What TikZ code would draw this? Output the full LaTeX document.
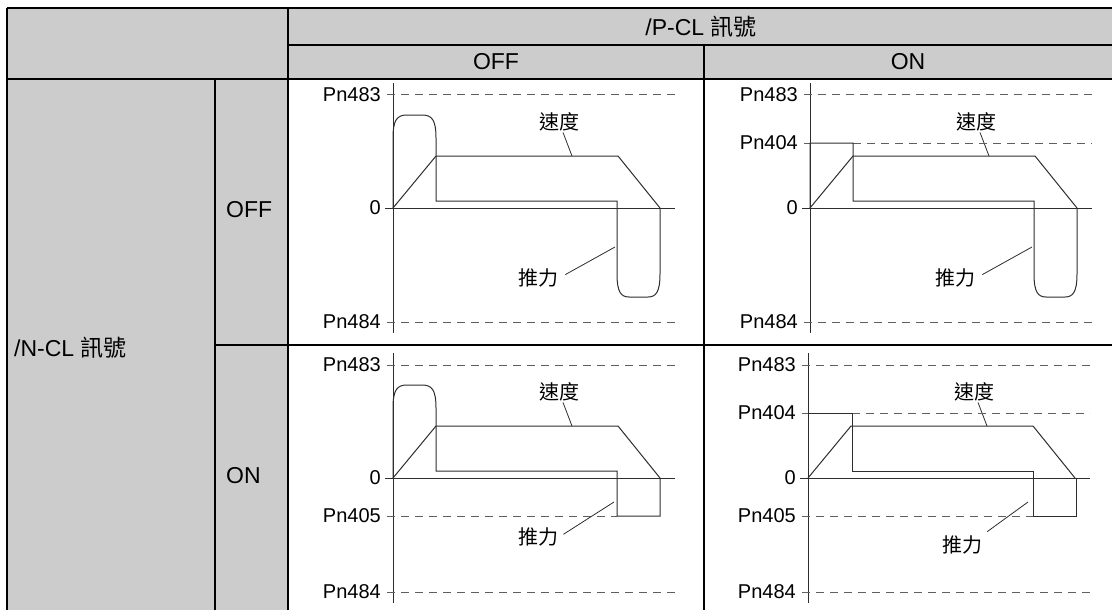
\documentclass[tikz,border=0pt]{standalone}
\usepackage{fontspec}
\setmainfont{Liberation Sans}
\newfontfamily\cjk{Noto Sans CJK TC}
\usetikzlibrary{positioning,calc}
\definecolor{hdrgray}{RGB}{204,204,204}
\definecolor{crvgray}{RGB}{45,45,45}
\definecolor{limgray}{RGB}{95,95,95}
\newcommand{\pnframe}[1]{%
  \draw[axl] (0,-125) -- (0,125);
  \draw[axl] (-8,0) -- (282,0);
  \draw[lim] (-6,-113) -- (282,-113);
  \draw[lim] (-6,114) -- (282,114);
  \node[plab] (#1-483) at (-12,-113) {Pn483};
  \node[plab] (#1-0) at (-12,0) {0};
  \node[plab] (#1-484) at (-12,114) {Pn484};
  \draw[crv] (0,0) -- (43,-52) -- (225,-52) -- (267,0);
  \node[clab] (#1-v) at (166,-86) {速度};
  \coordinate (#1-vp) at (179,-52);
  \draw[lead] (#1-v) -- (#1-vp);}
\tikzset{
  cell/.style={black, line width=1.5pt},
  hlab/.style={font=\fontsize{23}{27}\selectfont, inner sep=0pt},
  plab/.style={font=\fontsize{20}{24}\selectfont, anchor=east, inner sep=0pt},
  clab/.style={font=\cjk\fontsize{20}{24}\selectfont, inner sep=1pt},
  axl/.style={crvgray, line width=1pt},
  lim/.style={limgray, line width=1pt, dash pattern=on 8pt off 6pt},
  crv/.style={crvgray, line width=1pt},
  lead/.style={crvgray, line width=0.8pt},
}
\begin{document}
\begin{tikzpicture}[x=1pt,y=-1pt]
\useasboundingbox (0,0) rectangle (1112,610);
% table
\fill[hdrgray] (7,8) rectangle (1112,79);
\fill[hdrgray] (7,79) rectangle (288,610);
\draw[cell] (7,8) -- (1112,8);
\draw[cell] (288,45) -- (1112,45);
\draw[cell] (7,79) -- (1112,79);
\draw[cell] (215,345) -- (1112,345);
\draw[cell] (7,8) -- (7,610);
\draw[cell] (215,79) -- (215,610);
\draw[cell] (288,8) -- (288,610);
\draw[cell] (704,45) -- (704,610);
\node[hlab, anchor=base] (pcl) at (701,36) {/P-CL {\cjk 訊號}};
\node[hlab, anchor=base] (pcloff) at (496,70) {OFF};
\node[hlab, anchor=base] (pclon) at (908,70) {ON};
\node[hlab, anchor=base west] (ncl) at (14,356) {/N-CL {\cjk 訊號}};
\node[hlab, anchor=base west] (ncloff) at (226,217) {OFF};
\node[hlab, anchor=base west] (nclon) at (226,483) {ON};
% /P-CL OFF, /N-CL OFF
\begin{scope}[shift={(393,208)}]
  \pnframe{a}
  \draw[crv] (0,0) -- (0,-70) .. controls (0,-88) and (4,-93) .. (14,-93) -- (29,-93)
    .. controls (39,-93) and (43,-88) .. (43,-70) -- (43,-7) -- (224,-7) -- (224,66)
    .. controls (224,84) and (228,89) .. (236,89) -- (255,89)
    .. controls (263,89) and (267,84) .. (267,66) -- (267,0);
  \node[clab] (a-f) at (145,70) {推力};
  \coordinate (a-fp) at (222,39);
  \draw[lead, shorten <=7pt] (a-f.east) -- (a-fp);
\end{scope}
% /P-CL ON, /N-CL OFF
\begin{scope}[shift={(810,208)}]
  \pnframe{b}
  \draw[lim] (-6,-65) -- (0,-65);
  \draw[lim] (43,-65) -- (282,-65);
  \node[plab] (b-404) at (-12,-65) {Pn404};
  \draw[crv] (0,0) -- (0,-65) -- (43,-65) -- (43,-7) -- (224,-7) -- (224,66)
    .. controls (224,84) and (228,89) .. (236,89) -- (255,89)
    .. controls (263,89) and (267,84) .. (267,66) -- (267,0);
  \node[clab] (b-f) at (145,70) {推力};
  \coordinate (b-fp) at (222,39);
  \draw[lead, shorten <=7pt] (b-f.east) -- (b-fp);
\end{scope}
% /P-CL OFF, /N-CL ON
\begin{scope}[shift={(393,478)}]
  \pnframe{c}
  \draw[lim] (-6,38) -- (224,38);
  \node[plab] (c-405) at (-12,38) {Pn405};
  \draw[crv] (0,0) -- (0,-70) .. controls (0,-88) and (4,-93) .. (14,-93) -- (29,-93)
    .. controls (39,-93) and (43,-88) .. (43,-70) -- (43,-7) -- (224,-7) -- (224,38)
    -- (267,38) -- (267,0);
  \node[clab] (c-f) at (145,59) {推力};
  \coordinate (c-fp) at (221,24);
  \draw[lead, shorten <=5pt] (c-f.east) -- (c-fp);
\end{scope}
% /P-CL ON, /N-CL ON
\begin{scope}[shift={(808,478)}]
  \pnframe{d}
  \draw[lim] (-6,-65) -- (0,-65);
  \draw[lim] (44,-65) -- (282,-65);
  \draw[lim] (-6,38) -- (225,38);
  \node[plab] (d-404) at (-12,-65) {Pn404};
  \node[plab] (d-405) at (-12,38) {Pn405};
  \draw[crv] (0,0) -- (0,-65) -- (44,-65) -- (44,-7) -- (225,-7) -- (225,38) -- (268,38) -- (268,0);
  \node[clab] (d-f) at (154,67) {推力};
  \coordinate (d-fp) at (220,24);
  \draw[lead, shorten <=5pt] (d-f.north east) -- (d-fp);
\end{scope}
\end{tikzpicture}
\end{document}
